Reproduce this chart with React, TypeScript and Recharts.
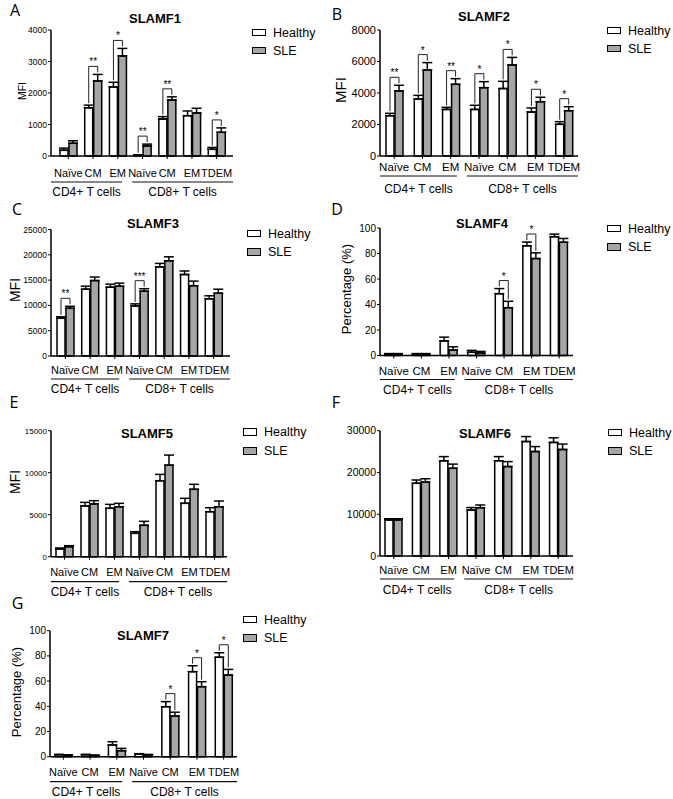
import React from 'react';
import { Bar, BarChart, ErrorBar, Rectangle, XAxis, YAxis } from 'recharts';

const W = 673;
const H = 799;
const BAR_GAP = 1;
const SLE_FILL = '#a6a6a6';
const FONT = '"Liberation Sans", Arial, Helvetica, sans-serif';

const categories = ['Naïve', 'CM', 'EM', 'Naïve', 'CM', 'EM', 'TDEM'];
const groups = ['CD4+ T cells', 'CD8+ T cells'];
const seriesNames = ['Healthy', 'SLE'];

// SLAMF1 (MFI)
const slamf1Healthy = [180, 1530, 2190, 30, 1175, 1280, 212];
const slamf1HealthyErr = [70, 85, 150, 10, 75, 150, 60];
const slamf1Sle = [403, 2380, 3175, 317, 1778, 1365, 752];
const slamf1SleErr = [80, 210, 240, 60, 100, 150, 140];
const slamf1Sig = ['', '**', '*', '**', '**', '', '*'];

// SLAMF2 (MFI)
const slamf2Healthy = [2560, 3620, 2960, 2960, 4280, 2790, 2010];
const slamf2HealthyErr = [150, 230, 130, 260, 460, 260, 170];
const slamf2Sle = [4130, 5460, 4550, 4340, 5780, 3450, 2880];
const slamf2SleErr = [360, 470, 360, 380, 480, 280, 250];
const slamf2Sig = ['**', '*', '**', '*', '*', '*', '*'];

// SLAMF3 (MFI)
const slamf3Healthy = [7450, 13200, 13600, 9900, 17600, 16100, 11300];
const slamf3HealthyErr = [300, 600, 600, 400, 700, 700, 600];
const slamf3Sle = [9420, 14900, 13800, 12800, 18800, 13900, 12400];
const slamf3SleErr = [400, 700, 600, 500, 800, 900, 800];
const slamf3Sig = ['**', '', '', '***', '', '', ''];

// SLAMF4 (%)
const slamf4Healthy = [1, 1, 11.4, 2.5, 48.5, 86, 93.2];
const slamf4HealthyErr = [0.5, 0.5, 3, 1.5, 4, 3, 2];
const slamf4Sle = [1, 1, 4.3, 2, 37.5, 76, 88.8];
const slamf4SleErr = [0.5, 0.5, 2.5, 1.2, 5, 4.5, 3];
const slamf4Sig = ['', '', '', '', '*', '*', ''];

// SLAMF5 (MFI)
const slamf5Healthy = [920, 6040, 5760, 2780, 9050, 6350, 5360];
const slamf5HealthyErr = [120, 430, 470, 200, 750, 600, 470];
const slamf5Sle = [1190, 6270, 5950, 3730, 10900, 8020, 5950];
const slamf5SleErr = [120, 400, 400, 480, 1200, 600, 680];
const slamf5Sig = ['', '', '', '', '', '', ''];

// SLAMF6 (MFI)
const slamf6Healthy = [8620, 17400, 22800, 11000, 22800, 27400, 27200];
const slamf6HealthyErr = [300, 800, 1000, 600, 1000, 1200, 1100];
const slamf6Sle = [8620, 17700, 21000, 11560, 21400, 25000, 25500];
const slamf6SleErr = [300, 800, 1000, 650, 1200, 1200, 1300];
const slamf6Sig = ['', '', '', '', '', '', ''];

// SLAMF7 (%)
const slamf7Healthy = [1.5, 1.5, 9.3, 2, 39.7, 67.5, 78.9];
const slamf7HealthyErr = [0.4, 0.4, 2.6, 0.4, 4, 4.7, 3.6];
const slamf7Sle = [1.2, 1, 4.8, 1.5, 32.3, 55.6, 64.8];
const slamf7SleErr = [0.3, 0.3, 1.8, 0.3, 3, 3.9, 4.5];
const slamf7Sig = ['', '', '', '', '*', '*', '*'];

const ticks4000 = [0, 1000, 2000, 3000, 4000];
const ticks8000 = [0, 2000, 4000, 6000, 8000];
const ticks25000 = [0, 5000, 10000, 15000, 20000, 25000];
const ticksPct = [0, 20, 40, 60, 80, 100];
const ticks15000 = [0, 5000, 10000, 15000];
const ticks30000 = [0, 10000, 20000, 30000];

type Spec = {
  letter: string;
  title: string;
  yLabel: string;
  healthy: number[];
  healthyErr: number[];
  sle: number[];
  sleErr: number[];
  sig: string[];
  yTicks: number[];
  // layout (page coordinates)
  plot: { l: number; r: number; t: number; b: number; padL: number; padR: number };
  rows: [number, number, number];
  catSize: number;
  yTickSize: number;
  letterAt: [number, number];
  titleAt: [number, number];
  legendAt: [number, number, number];
  yLabelAt: [number, number, number];
};

const panels: Spec[] = [
  {
    letter: 'A', title: 'SLAMF1', yLabel: 'MFI',
    healthy: slamf1Healthy, healthyErr: slamf1HealthyErr, sle: slamf1Sle, sleErr: slamf1SleErr, sig: slamf1Sig,
    yTicks: ticks4000,
    plot: { l: 51, r: 233, t: 30, b: 156, padL: 5, padR: 4 },
    rows: [17, 26, 36], catSize: 11, yTickSize: 8.5,
    letterAt: [15, 10], titleAt: [155, 18], legendAt: [252, 32.5, 50.5], yLabelAt: [21.5, 91, 10.5],
  },
  {
    letter: 'B', title: 'SLAMF2', yLabel: 'MFI',
    healthy: slamf2Healthy, healthyErr: slamf2HealthyErr, sle: slamf2Sle, sleErr: slamf2SleErr, sig: slamf2Sig,
    yTicks: ticks8000,
    plot: { l: 380, r: 578, t: 30, b: 156, padL: 0, padR: 0 },
    rows: [11, 20, 33], catSize: 11.5, yTickSize: 11,
    letterAt: [337, 14], titleAt: [484, 16], legendAt: [607, 30.5, 48.5], yLabelAt: [340, 90, 15],
  },
  {
    letter: 'C', title: 'SLAMF3', yLabel: 'MFI',
    healthy: slamf3Healthy, healthyErr: slamf3HealthyErr, sle: slamf3Sle, sleErr: slamf3SleErr, sig: slamf3Sig,
    yTicks: ticks25000,
    plot: { l: 51, r: 230, t: 229.5, b: 356, padL: 2, padR: 4 },
    rows: [14, 23, 33], catSize: 11, yTickSize: 8.5,
    letterAt: [17, 209], titleAt: [153, 223], legendAt: [247, 233.5, 252], yLabelAt: [15, 290, 14],
  },
  {
    letter: 'D', title: 'SLAMF4', yLabel: 'Percentage (%)',
    healthy: slamf4Healthy, healthyErr: slamf4HealthyErr, sle: slamf4Sle, sleErr: slamf4SleErr, sig: slamf4Sig,
    yTicks: ticksPct,
    plot: { l: 380, r: 573, t: 228, b: 355.5, padL: 0, padR: 0 },
    rows: [15, 24, 34], catSize: 11.5, yTickSize: 10,
    letterAt: [337, 209], titleAt: [482, 223], legendAt: [607, 228.5, 247], yLabelAt: [346, 289, 13],
  },
  {
    letter: 'E', title: 'SLAMF5', yLabel: 'MFI',
    healthy: slamf5Healthy, healthyErr: slamf5HealthyErr, sle: slamf5Sle, sleErr: slamf5SleErr, sig: slamf5Sig,
    yTicks: ticks15000,
    plot: { l: 51, r: 227, t: 430.7, b: 556.7, padL: 1, padR: 0 },
    rows: [15, 25, 35], catSize: 11, yTickSize: 8,
    letterAt: [14, 402], titleAt: [147, 433], legendAt: [243, 432, 451], yLabelAt: [15, 482, 14],
  },
  {
    letter: 'F', title: 'SLAMF6', yLabel: '',
    healthy: slamf6Healthy, healthyErr: slamf6HealthyErr, sle: slamf6Sle, sleErr: slamf6SleErr, sig: slamf6Sig,
    yTicks: ticks30000,
    plot: { l: 380, r: 573, t: 430.7, b: 556, padL: 0, padR: 1 },
    rows: [14, 23, 34], catSize: 11, yTickSize: 10.5,
    letterAt: [336, 402], titleAt: [485, 433], legendAt: [608, 432.5, 451], yLabelAt: [0, 0, 0],
  },
  {
    letter: 'G', title: 'SLAMF7', yLabel: 'Percentage (%)',
    healthy: slamf7Healthy, healthyErr: slamf7HealthyErr, sle: slamf7Sle, sleErr: slamf7SleErr, sig: slamf7Sig,
    yTicks: ticksPct,
    plot: { l: 50, r: 237, t: 630.7, b: 756.7, padL: 0, padR: 0 },
    rows: [15, 25, 35], catSize: 11, yTickSize: 10,
    letterAt: [17.5, 603], titleAt: [143, 635], legendAt: [243, 619.5, 638], yLabelAt: [16, 692, 13],
  },
];

const Y_AXIS_W = 40;
const X_AXIS_H = 30;

function SleBar(props: any) {
  const { x, y, width, height, payload } = props;
  const rect = (
    <Rectangle x={x} y={y} width={width} height={height} fill={SLE_FILL} stroke="#000" strokeWidth={1.5} />
  );
  if (!payload || !payload.sig || !payload.s || !height) return rect;
  const base = y + height;
  const k = height / payload.s;
  const hTop = base - (payload.h + payload.he) * k;
  const sTop = base - (payload.s + payload.se) * k;
  const hx = x - BAR_GAP - width / 2;
  const sx = x + width / 2;
  const top = Math.min(hTop, sTop) - 8;
  return (
    <g>
      {rect}
      <path d={`M${hx},${hTop - 2}V${top}H${sx}V${sTop - 2}`} fill="none" stroke="#222" strokeWidth={1} />
      <text x={(hx + sx) / 2} y={top - 1} textAnchor="middle" fontSize={10} fill="#000" fontFamily={FONT}>
        {payload.sig}
      </text>
    </g>
  );
}

function makeTick(s: Spec) {
  const { l, r, b, padL, padR } = s.plot;
  const step = (r - l - padL - padR) / categories.length;
  return function CategoryTick(props: any) {
    const { x, index } = props;
    const lineY = b + s.rows[1];
    const groupY = b + s.rows[2];
    let extra = null;
    if (index === 2) {
      const x2 = x + step / 2 - 8;
      extra = (
        <g>
          <line x1={l} x2={x2} y1={lineY} y2={lineY} stroke="#111" strokeWidth={1.2} />
          <text x={(l + x2) / 2} y={groupY} textAnchor="middle" dominantBaseline="central" fontSize={12} fill="#000" fontFamily={FONT}>
            {groups[0]}
          </text>
        </g>
      );
    } else if (index === 3) {
      const x1 = x - step / 2 + 2;
      extra = (
        <g>
          <line x1={x1} x2={r} y1={lineY} y2={lineY} stroke="#111" strokeWidth={1.2} />
          <text x={(x1 + r) / 2} y={groupY} textAnchor="middle" dominantBaseline="central" fontSize={12} fill="#000" fontFamily={FONT}>
            {groups[1]}
          </text>
        </g>
      );
    }
    return (
      <g>
        <text x={x} y={b + s.rows[0]} textAnchor="middle" dominantBaseline="central" fontSize={s.catSize} fill="#000" fontFamily={FONT}>
          {categories[index]}
        </text>
        {extra}
      </g>
    );
  };
}

const centered = (x: number, y: number, extra: React.CSSProperties = {}): React.CSSProperties => ({
  position: 'absolute',
  left: x,
  top: y,
  transform: 'translate(-50%, -50%)',
  whiteSpace: 'nowrap',
  lineHeight: 1,
  ...extra,
});

function Panel({ s }: { s: Spec }) {
  const data = categories.map((_, i) => ({
    idx: i,
    h: s.healthy[i],
    he: s.healthyErr[i],
    s: s.sle[i],
    se: s.sleErr[i],
    hErr: [0, s.healthyErr[i]],
    sErr: [0, s.sleErr[i]],
    sig: s.sig[i],
  }));
  const { l, r, t, b, padL, padR } = s.plot;
  const yMax = s.yTicks[s.yTicks.length - 1];
  const [bx, hy, sy] = s.legendAt;
  return (
    <>
      <div style={{ position: 'absolute', left: 0, top: 0 }}>
        <BarChart
          width={W}
          height={H}
          data={data}
          barGap={BAR_GAP}
          barSize={8}
          margin={{ top: t, right: W - r, left: l - Y_AXIS_W, bottom: H - b - X_AXIS_H }}
        >
          <XAxis
            dataKey="idx"
            type="category"
            height={X_AXIS_H}
            interval={0}
            padding={{ left: padL, right: padR }}
            axisLine={{ stroke: '#000', strokeWidth: 1.5 }}
            tickLine={{ stroke: '#000', strokeWidth: 1 }}
            tickSize={3}
            tick={makeTick(s)}
          />
          <YAxis
            width={Y_AXIS_W}
            domain={[0, yMax]}
            ticks={s.yTicks}
            interval={0}
            axisLine={{ stroke: '#000', strokeWidth: 1.5 }}
            tickLine={{ stroke: '#000', strokeWidth: 1 }}
            tickSize={3}
            tickMargin={1}
            tick={{ fontSize: s.yTickSize, fill: '#000', fontFamily: FONT }}
          />
          <Bar dataKey="h" fill="#fff" stroke="#000" strokeWidth={1.5} isAnimationActive={false}>
            <ErrorBar dataKey="hErr" width={5} stroke="#000" strokeWidth={1.5} direction="y" />
          </Bar>
          <Bar dataKey="s" fill={SLE_FILL} stroke="#000" strokeWidth={1.5} shape={SleBar} isAnimationActive={false}>
            <ErrorBar dataKey="sErr" width={5} stroke="#000" strokeWidth={1.5} direction="y" />
          </Bar>
        </BarChart>
      </div>
      <div style={centered(s.letterAt[0], s.letterAt[1], { fontSize: 16, fontFamily: '"Open Sans", sans-serif' })}>
        {s.letter}
      </div>
      <div style={centered(s.titleAt[0], s.titleAt[1], { fontSize: 13, fontWeight: 700 })}>{s.title}</div>
      {s.yLabel && (
        <div
          style={centered(s.yLabelAt[0], s.yLabelAt[1], {
            fontSize: s.yLabelAt[2],
            transform: 'translate(-50%, -50%) rotate(-90deg)',
          })}
        >
          {s.yLabel}
        </div>
      )}
      {[hy, sy].map((cy, i) => (
        <React.Fragment key={seriesNames[i]}>
          <div
            style={{
              position: 'absolute',
              left: bx,
              top: cy - 3.75,
              width: 14,
              height: 7.5,
              boxSizing: 'border-box',
              border: '1.6px solid #000',
              background: i === 0 ? '#fff' : SLE_FILL,
            }}
          />
          <div
            style={{
              position: 'absolute',
              left: bx + 21,
              top: cy,
              transform: 'translateY(-50%)',
              fontSize: 12.5,
              lineHeight: 1,
              whiteSpace: 'nowrap',
            }}
          >
            {seriesNames[i]}
          </div>
        </React.Fragment>
      ))}
    </>
  );
}

export default function App() {
  return (
    <div
      style={{
        position: 'absolute',
        left: 0,
        top: 0,
        width: W,
        height: H,
        background: '#fff',
        overflow: 'hidden',
        fontFamily: FONT,
        color: '#000',
      }}
    >
      {panels.map((s) => (
        <Panel key={s.letter} s={s} />
      ))}
    </div>
  );
}
